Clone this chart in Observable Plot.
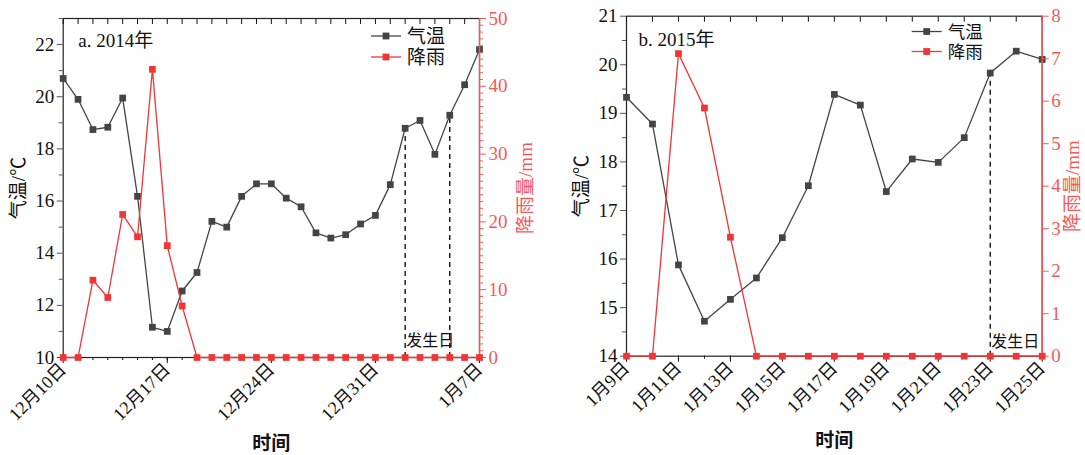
<!DOCTYPE html>
<html><head><meta charset="utf-8">
<script src="https://cdn.jsdelivr.net/npm/d3@7"></script>
<script src="https://cdn.jsdelivr.net/npm/@observablehq/plot@0.6"></script>
<style>
body{margin:0;background:#fff;}
#wrap{position:relative;width:1085px;height:455px;overflow:hidden;background:#fff;}
.layer{position:absolute;top:0;}
</style></head><body><div id="wrap"></div>
<script>
// ---------- Data: panel a (2014) ----------
const datesA = ["2014-12-10","2014-12-11","2014-12-12","2014-12-13","2014-12-14","2014-12-15","2014-12-16","2014-12-17","2014-12-18","2014-12-19","2014-12-20","2014-12-21","2014-12-22","2014-12-23","2014-12-24","2014-12-25","2014-12-26","2014-12-27","2014-12-28","2014-12-29","2014-12-30","2014-12-31","2015-01-01","2015-01-02","2015-01-03","2015-01-04","2015-01-05","2015-01-06","2015-01-07"];
const tempA = [20.7,19.9,18.74,18.83,19.95,16.18,11.16,11.0,12.55,13.26,15.22,15.0,16.18,16.66,16.66,16.11,15.78,14.78,14.58,14.71,15.12,15.45,16.63,18.79,19.09,17.79,19.29,20.46,21.81];
const rainA = [0,0,11.4,8.85,21.1,17.8,42.5,16.5,7.6,0,0,0,0,0,0,0,0,0,0,0,0,0,0,0,0,0,0,0,0];
const eventsA = ["2015-01-02","2015-01-05"];
const xMajorA = ["2014-12-10","2014-12-17","2014-12-24","2014-12-31","2015-01-07"];
const tempMajorA = [10,12,14,16,18,20,22];
const tempMinorA = [11,13,15,17,19,21,23];
const rainMajorA = [0,10,20,30,40,50];
const rainMinorA = [1,2,3,4,5,6,7,8,9,11,12,13,14,15,16,17,18,19,21,22,23,24,25,26,27,28,29,31,32,33,34,35,36,37,38,39,41,42,43,44,45,46,47,48,49];

// ---------- Data: panel b (2015) ----------
const datesB = ["2015-01-09","2015-01-10","2015-01-11","2015-01-12","2015-01-13","2015-01-14","2015-01-15","2015-01-16","2015-01-17","2015-01-18","2015-01-19","2015-01-20","2015-01-21","2015-01-22","2015-01-23","2015-01-24","2015-01-25"];
const tempB = [19.33,18.78,15.88,14.72,15.17,15.61,16.44,17.51,19.39,19.17,17.39,18.06,17.99,18.5,19.83,20.28,20.11];
const rainB = [0,0,7.12,5.84,2.8,0,0,0,0,0,0,0,0,0,0,0,0];
const eventsB = ["2015-01-23"];
const xMajorB = ["2015-01-09","2015-01-11","2015-01-13","2015-01-15","2015-01-17","2015-01-19","2015-01-21","2015-01-23","2015-01-25"];
const tempMajorB = [14,15,16,17,18,19,20,21];
const tempMinorB = [14.5,15.5,16.5,17.5,18.5,19.5,20.5];
const rainMajorB = [0,1,2,3,4,5,6,7,8];
const rainMinorB = [];

const FONT = '"Liberation Serif","Times New Roman","Noto Sans CJK SC",serif';
const GRAY = "#444444";
const RED = "#f03535";
const RED_AXIS = "#f45a5a";
const parse = d3.utcParse("%Y-%m-%d");
const fmt = d => `${d.getUTCMonth()+1}月${d.getUTCDate()}日`;

function panel(cfg) {
  const rows = cfg.dates.map((d,i) => ({date: parse(d), temp: cfg.temp[i], rain: cfg.rain[i]}));
  const allDates = rows.map(r => r.date);
  const xDomain = [allDates[0], allDates[allDates.length-1]];
  const events = cfg.events.map(e => rows.find(r => +r.date === +parse(e)));
  const common = {
    width: cfg.width, height: 455,
    marginLeft: cfg.ml, marginRight: cfg.mr, marginTop: cfg.mt, marginBottom: cfg.mb,
    x: {type: "utc", domain: xDomain},
    style: {fontFamily: FONT, fontSize: "18px", background: "transparent", overflow: "visible"}
  };
  const p1 = Plot.plot({
    ...common,
    y: {domain: cfg.tempDomain},
    marks: [
      Plot.frame({stroke: "#222", strokeWidth: 1.2}),
      Plot.axisY(cfg.tempMajor, {anchor: "left", tickSize: 6, tickPadding: 3, stroke: "#555", fill: "#111",
        label: "气温/℃", labelAnchor: "center", labelOffset: cfg.yLabelOffset, labelArrow: false, fontSize: 19}),
      Plot.axisY(cfg.tempMinor, {anchor: "left", tickSize: 4, stroke: "#555", text: null, label: null}),
      Plot.axisX(cfg.xMajor.map(parse), {anchor: "bottom", tickSize: 6, tickPadding: 3, tickRotate: -45, tickFormat: fmt,
        stroke: "#111", fill: "#111", label: null, fontSize: 18}),
      Plot.axisX([], {anchor: "bottom", label: "时间", labelAnchor: "center", labelOffset: cfg.xLabelOffset, labelArrow: false,
        fontSize: 19, fontWeight: "bold", fill: "#111"}),
      Plot.axisX(allDates, {anchor: "bottom", tickSize: 3, stroke: "#111", text: null, label: null}),
      Plot.axisX(allDates, {anchor: "top", tickSize: -5, stroke: "#111", text: null, label: null}),
      Plot.ruleX(events, {x: "date", y1: cfg.tempDomain[0], y2: "temp", stroke: "#000", strokeWidth: 1.3, strokeDasharray: "5,4"}),
      Plot.text(events.slice(0,1), {x: "date", y: cfg.tempDomain[0], text: () => "发生日", textAnchor: "start", dx: 1, dy: cfg.evDy, fontSize: 16, fill: "#111"}),
      Plot.line(rows, {x: "date", y: "temp", stroke: GRAY, strokeWidth: 1.3}),
      Plot.dot(rows, {x: "date", y: "temp", symbol: "square", fill: GRAY, stroke: "none", r: 3.8}),
      Plot.text([cfg.title], {frameAnchor: "top-left", dx: cfg.titleDx, dy: cfg.titleDy, fontSize: 19, fill: "#111"})
    ]
  });
  const p2 = Plot.plot({
    ...common,
    x: {type: "utc", domain: xDomain, axis: null},
    y: {domain: cfg.rainDomain},
    marks: [
      Plot.ruleX([xDomain[1]], {stroke: RED_AXIS, strokeWidth: 1.4}),
      Plot.axisY(cfg.rainMajor, {anchor: "right", tickSize: 6, tickPadding: 3, stroke: RED_AXIS, fill: RED_AXIS,
        label: "降雨量/mm", labelAnchor: "center", labelOffset: cfg.rLabelOffset, labelArrow: false, fontSize: 19}),
      Plot.axisY(cfg.rainMinor, {anchor: "right", tickSize: 3, stroke: RED_AXIS, text: null, label: null}),
      Plot.line(rows, {x: "date", y: "rain", stroke: RED, strokeWidth: 1.3}),
      Plot.dot(rows, {x: "date", y: "rain", symbol: "square", fill: RED, stroke: "none", r: 3.8})
    ]
  });
  const div = document.createElement("div");
  div.className = "layer";
  div.style.left = cfg.left + "px";
  div.style.width = cfg.width + "px";
  div.style.height = "455px";
  [p1, p2].forEach(p => { p.style.position = "absolute"; p.style.left = "0"; p.style.top = "0"; div.appendChild(p); });
  // legend
  const svg = d3.select(p2);
  const lg = svg.append("g").attr("font-family", FONT).attr("font-size", cfg.legFont).attr("text-anchor", "start");
  [["气温", GRAY, cfg.legY[0]], ["降雨", RED, cfg.legY[1]]].forEach(([t, c, y]) => {
    lg.append("line").attr("x1", cfg.legX).attr("x2", cfg.legX + 30).attr("y1", y).attr("y2", y).attr("stroke", c).attr("stroke-width", 1.3);
    lg.append("rect").attr("x", cfg.legX + 15 - 3.4).attr("y", y - 3.4).attr("width", 6.8).attr("height", 6.8).attr("fill", c);
    lg.append("text").attr("x", cfg.legX + 36).attr("y", y).attr("dy", "0.35em").attr("fill", "#111").text(t);
  });
  document.getElementById("wrap").appendChild(div);
}

panel({left: 0, width: 540, ml: 62.7, mr: 61, mt: 18, mb: 98,
  dates: datesA, temp: tempA, rain: rainA, events: eventsA, xMajor: xMajorA,
  tempDomain: [10, 23], tempMajor: tempMajorA, tempMinor: tempMinorA,
  rainDomain: [0, 50], rainMajor: rainMajorA, rainMinor: rainMinorA,
  title: "a. 2014年", titleDx: 15, titleDy: 15, evDy: -17,
  yLabelOffset: 52, rLabelOffset: 52, xLabelOffset: 92,
  legX: 371, legY: [36, 57], legFont: 19});

panel({left: 540, width: 545, ml: 86, mr: 43.3, mt: 15.7, mb: 99.3,
  dates: datesB, temp: tempB, rain: rainB, events: eventsB, xMajor: xMajorB,
  tempDomain: [14, 21], tempMajor: tempMajorB, tempMinor: tempMinorB,
  rainDomain: [0, 8], rainMajor: rainMajorB, rainMinor: rainMinorB,
  title: "b. 2015年", titleDx: 12, titleDy: 16, evDy: -14,
  yLabelOffset: 52, rLabelOffset: 37, xLabelOffset: 91,
  legX: 371.7, legY: [31.5, 51.5], legFont: 17.5});
</script></body></html>
